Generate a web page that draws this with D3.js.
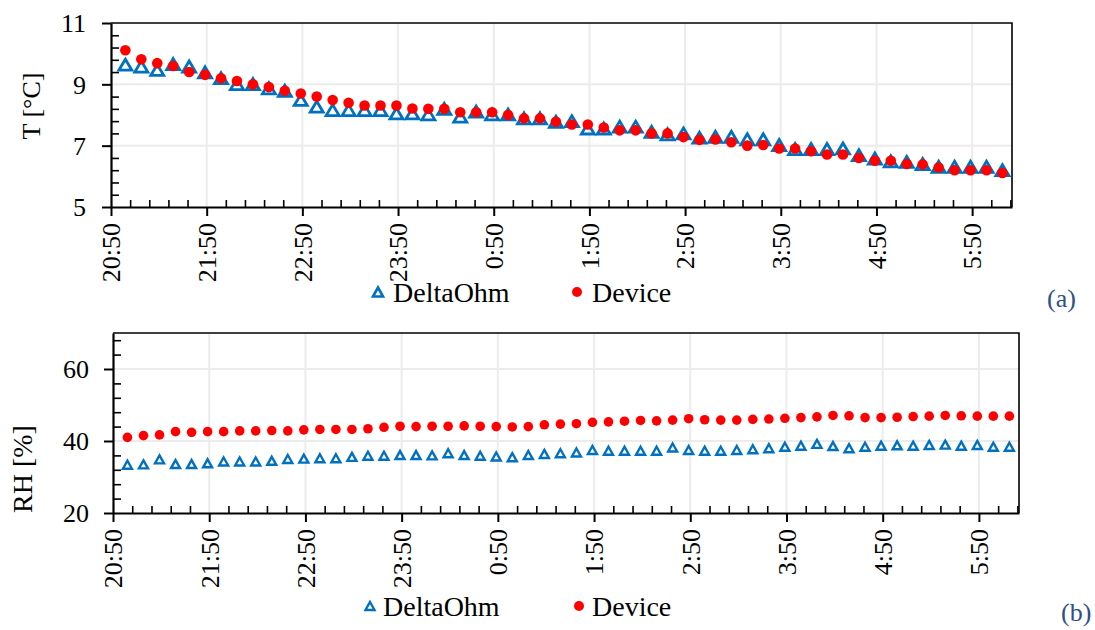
<!DOCTYPE html>
<html><head><meta charset="utf-8">
<script src="https://cdn.jsdelivr.net/npm/d3@7"></script>
<style>
html,body{margin:0;padding:0;background:#fff;}
svg{display:block;font-family:"Liberation Serif","Times New Roman",serif;}
</style></head>
<body>
<svg id="chart" width="1095" height="630"></svg>
<script>
const times = ["20:59","21:09","21:19","21:29","21:39","21:49","21:59","22:09","22:19","22:29","22:39","22:49","22:59","23:09","23:19","23:29","23:39","23:49","23:59",
"0:09","0:19","0:29","0:39","0:49","0:59","1:09","1:19","1:29","1:39","1:49","1:59","2:09","2:19","2:29","2:39","2:49","2:59",
"3:09","3:19","3:29","3:39","3:49","3:59","4:09","4:19","4:29","4:39","4:49","4:59","5:09","5:19","5:29","5:39","5:49","5:59","6:09"];

const tDeltaOhm = [9.64,9.58,9.47,9.66,9.58,9.39,9.20,9.01,9.01,8.87,8.79,8.49,8.27,8.16,8.16,8.16,8.16,8.05,8.05,
8.02,8.20,7.95,8.11,8.02,8.02,7.89,7.89,7.78,7.80,7.56,7.56,7.62,7.62,7.45,7.37,7.40,7.26,
7.29,7.29,7.21,7.21,7.02,6.89,6.89,6.89,6.91,6.69,6.58,6.49,6.47,6.40,6.31,6.31,6.31,6.31,6.20];
const tDevice = [10.11,9.82,9.69,9.60,9.40,9.31,9.20,9.11,9.00,8.91,8.79,8.70,8.60,8.49,8.40,8.31,8.31,8.31,8.21,
8.20,8.20,8.09,8.09,8.09,8.00,7.89,7.89,7.78,7.69,7.69,7.59,7.50,7.50,7.40,7.40,7.28,7.19,
7.20,7.11,7.00,7.02,6.91,6.91,6.82,6.71,6.71,6.60,6.51,6.51,6.40,6.39,6.29,6.20,6.20,6.20,6.11];

const rhDeltaOhm = [33.4,33.5,34.9,33.6,33.6,33.8,34.3,34.3,34.3,34.5,35.0,35.1,35.2,35.2,35.6,35.9,35.9,36.1,36.1,
36.0,36.6,36.1,35.9,35.7,35.5,36.1,36.4,36.6,36.8,37.5,37.3,37.3,37.3,37.3,38.2,37.5,37.3,
37.3,37.5,37.7,38.0,38.4,38.7,39.2,38.6,38.0,38.4,38.7,38.8,38.7,38.9,39.0,38.7,38.9,38.4,38.4];
const rhDevice = [41.0,41.5,41.7,42.6,42.4,42.6,42.6,42.8,42.8,42.9,42.8,43.1,43.2,43.2,43.2,43.4,43.8,44.1,44.0,
44.1,44.1,44.2,44.1,44.0,43.9,44.0,44.5,44.7,44.8,45.2,45.3,45.5,45.7,45.6,45.8,46.2,45.9,
45.8,45.8,46.0,46.1,46.3,46.5,46.7,47.1,47.0,46.5,46.5,46.6,46.8,46.9,47.1,47.0,46.9,46.9,46.9];

const xTickLabels = ["20:50","21:50","22:50","23:50","0:50","1:50","2:50","3:50","4:50","5:50"];
const tTicks = [5,7,9,11];
const rhTicks = [20,40,60];
const seriesNames = ["DeltaOhm","Device"];

const FONT = '"Liberation Serif","Times New Roman",serif';
const toMin = s => { let [h,m] = s.split(":").map(Number); if (h < 12) h += 24; return h*60+m - (20*60+50); };
const xTickMins = xTickLabels.map(toMin);
const xMaxMin = 565;

const svg = d3.select("#chart");
const BLUE = "#0070C0", RED = "#FF0000";

function triPath(w,h){ return `M0,${-h/2}L${w/2},${h/2}L${-w/2},${h/2}Z`; }

function panel(cfg){
  const {x0,x1,y0,y1,yDomain,yTicks,yMinorStep,a,b,yTitle,titleX,titleY,titleSize,labelX,tri,r,legendY,legend, tag, tagX, tagY} = cfg;
  const g = svg.append("g");
  const x = d3.scaleLinear().domain([0,xMaxMin]).range([x0,x1]);
  const y = d3.scaleLinear().domain(yDomain).range([y1,y0]);

  g.append("g").selectAll("line").data(yTicks.filter(d=>d!==yDomain[0]&&d!==yDomain[1])).join("line")
    .attr("x1",x0).attr("x2",x1).attr("y1",d=>y(d)).attr("y2",d=>y(d))
    .attr("stroke","#ececec").attr("stroke-width",2);
  g.append("g").selectAll("line").data(xTickMins.filter(d=>d>0)).join("line")
    .attr("x1",d=>x(d)).attr("x2",d=>x(d)).attr("y1",y0).attr("y2",y1)
    .attr("stroke","#ececec").attr("stroke-width",2);

  g.append("path").attr("d",`M${x0},${y0}L${x1},${y0}L${x1},${y1}`)
    .attr("fill","none").attr("stroke","#000").attr("stroke-width",1.6);

  const xMinor = d3.range(0, xMaxMin+0.1, 12).filter(d=>xTickMins.indexOf(d)<0);
  const yMinor = d3.range(yDomain[0], yDomain[1]+1e-6, yMinorStep).filter(d=>!yTicks.some(t=>Math.abs(t-d)<1e-6));
  g.append("g").attr("transform",`translate(0,${y1})`)
    .call(d3.axisTop(x).tickValues(xMinor).tickSize(7).tickFormat(""))
    .call(s=>s.select(".domain").remove())
    .call(s=>s.selectAll("line").attr("stroke","#000").attr("stroke-width",1.6));
  g.append("g").attr("transform",`translate(${x0},0)`)
    .call(d3.axisRight(y).tickValues(yMinor).tickSize(8).tickFormat(""))
    .call(s=>s.select(".domain").remove())
    .call(s=>s.selectAll("line").attr("stroke","#000").attr("stroke-width",1.6));

  const ax = g.append("g").attr("transform",`translate(0,${y1})`)
    .call(d3.axisBottom(x).tickValues(xTickMins).tickSize(9).tickSizeOuter(0).tickFormat((d,i)=>xTickLabels[i]))
    .attr("font-family",FONT).attr("font-size",26);
  ax.select(".domain").attr("stroke","#000").attr("stroke-width",2.2);
  ax.selectAll("line").attr("stroke","#000").attr("stroke-width",2);
  ax.selectAll("text").attr("fill","#000")
    .attr("text-anchor","end").attr("transform","rotate(-90)")
    .attr("x",-16).attr("y",0).attr("dy","0.34em");

  const ay = g.append("g").attr("transform",`translate(${x0},0)`)
    .call(d3.axisLeft(y).tickValues(yTicks).tickSize(9).tickSizeOuter(0).tickFormat(d3.format("d")))
    .attr("font-family",FONT).attr("font-size",26);
  ay.select(".domain").attr("stroke","#000").attr("stroke-width",2.2);
  ay.selectAll("line").attr("stroke","#000").attr("stroke-width",2);
  ay.selectAll("text").attr("fill","#000").attr("x",labelX-x0).attr("dy","0.34em");

  g.append("text").attr("transform",`translate(${titleX},${titleY}) rotate(-90)`)
    .attr("text-anchor","middle").attr("font-size",titleSize).attr("fill","#000").text(yTitle);

  g.append("g").selectAll("path").data(a).join("path")
    .attr("d",triPath(tri.w,tri.h))
    .attr("transform",(d,i)=>`translate(${x(toMin(times[i]))},${y(d)})`)
    .attr("fill","none").attr("stroke",BLUE).attr("stroke-width",tri.sw);
  g.append("g").selectAll("circle").data(b).join("circle")
    .attr("cx",(d,i)=>x(toMin(times[i]))).attr("cy",d=>y(d)).attr("r",r).attr("fill",RED);

  const lg = g.append("g");
  lg.append("path").attr("d",triPath(legend.tw,legend.th))
    .attr("transform",`translate(${legend.tx},${legendY})`)
    .attr("fill","none").attr("stroke",BLUE).attr("stroke-width",legend.tsw);
  lg.append("text").attr("x",legend.tx+legend.gap).attr("y",legendY).attr("dy","0.34em")
    .attr("font-size",28).attr("fill","#000").text(seriesNames[0]);
  lg.append("circle").attr("cx",legend.cx).attr("cy",legendY).attr("r",legend.cr).attr("fill",RED);
  lg.append("text").attr("x",legend.cx+legend.gap).attr("y",legendY).attr("dy","0.34em")
    .attr("font-size",28).attr("fill","#000").text(seriesNames[1]);

  g.append("text").attr("x",tagX).attr("y",tagY).attr("font-size",26).attr("fill","#2f4f86").text(tag);
}

panel({x0:111,x1:1012,y0:23,y1:207,yDomain:[5,11],yTicks:tTicks,yMinorStep:0.4,
  a:tDeltaOhm,b:tDevice,yTitle:"T [°C]",titleX:40,titleY:106,titleSize:26,labelX:86,
  tri:{w:13,h:11,sw:2.8},r:5.3,legendY:292,
  legend:{tx:378,tw:10,th:9,tsw:2.6,cx:577,cr:5,gap:15},
  tag:"(a)",tagX:1047,tagY:307});

panel({x0:113,x1:1019,y0:333,y1:513,yDomain:[20,70],yTicks:rhTicks,yMinorStep:4,
  a:rhDeltaOhm,b:rhDevice,yTitle:"RH [%]",titleX:32,titleY:469,titleSize:28,labelX:89,
  tri:{w:9,h:8,sw:2.4},r:4.8,legendY:606,
  legend:{tx:370,tw:9,th:8,tsw:2.4,cx:579,cr:5,gap:13},
  tag:"(b)",tagX:1061,tagY:621});
</script>
</body></html>
